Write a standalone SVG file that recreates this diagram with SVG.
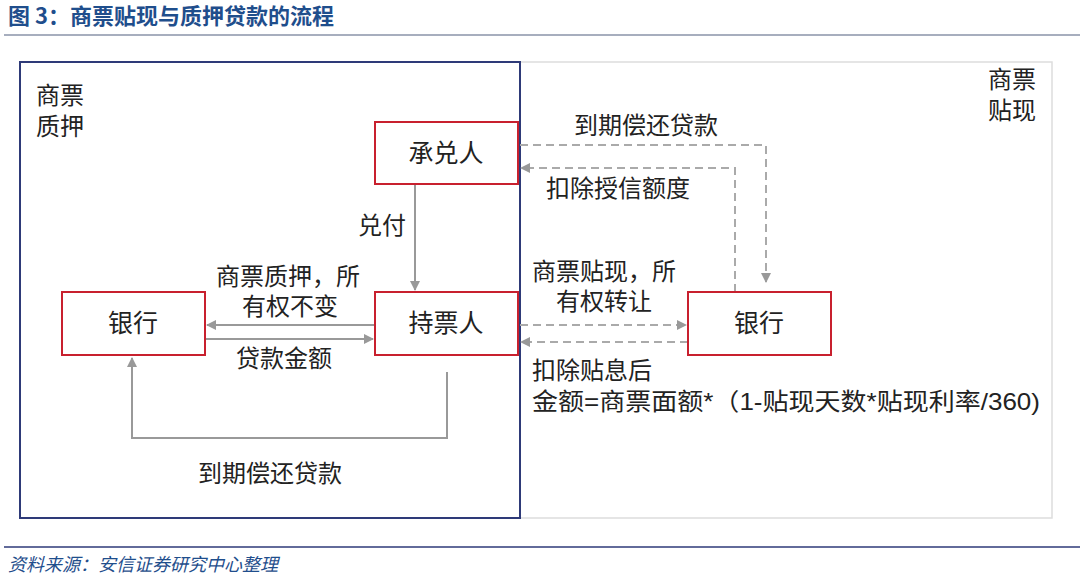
<svg xmlns="http://www.w3.org/2000/svg" width="1080" height="579" viewBox="0 0 1080 579">
<style>
text{font-family:"Liberation Sans","Noto Sans CJK SC",sans-serif;fill:#222;font-size:24px}
.node rect{fill:#fff;stroke:#c8202e;stroke-width:2}
.node text{text-anchor:middle;font-size:25px}
.s{fill:none;stroke:#999;stroke-width:2}
.d{fill:none;stroke:#aaa;stroke-width:2;stroke-dasharray:8 5}
</style>
<defs>
<marker id="a" viewBox="0 0 10 10" refX="9" refY="5" markerWidth="5" markerHeight="5" orient="auto"><path d="M0,0L10,5L0,10z" fill="#999"/></marker>
</defs>
<rect width="1080" height="579" fill="#fff"/>
<text x="8" y="24" style="fill:#1f4e8c;font-weight:bold;font-size:22px;font-family:'Noto Sans CJK SC',sans-serif">图 3：商票贴现与质押贷款的流程</text>
<line x1="4" y1="35" x2="1080" y2="35" stroke="#8a93a8" stroke-width="1.5"/>
<rect x="520" y="62" width="532" height="456" fill="none" stroke="#ddd" stroke-width="1.5"/>
<rect x="20" y="62" width="500" height="456" fill="none" stroke="#2e3a78" stroke-width="2"/>
<text x="36" y="104">商票</text><text x="36" y="135">质押</text>
<text x="988" y="88">商票</text><text x="988" y="119">贴现</text>
<g id="connectors">
<path class="s" d="M415,185V290" marker-end="url(#a)"/>
<path class="s" d="M375,325H207" marker-end="url(#a)"/>
<path class="s" d="M205,339H373" marker-end="url(#a)"/>
<path class="s" d="M447,372V438H132V358" marker-end="url(#a)"/>
<path class="d" d="M520,145H766V282" marker-end="url(#a)"/>
<path class="d" d="M735,292V168H521" marker-end="url(#a)"/>
<path class="d" d="M520,325H686" marker-end="url(#a)"/>
<path class="d" d="M688,342H521" marker-end="url(#a)"/>
</g>
<g id="n1" class="node"><rect x="375" y="122" width="143" height="62"/><text x="446" y="162">承兑人</text></g>
<g id="n2" class="node"><rect x="62" y="292" width="143" height="63"/><text x="133" y="332">银行</text></g>
<g id="n3" class="node"><rect x="375" y="292" width="143" height="63"/><text x="446" y="332">持票人</text></g>
<g id="n4" class="node"><rect x="688" y="292" width="143" height="63"/><text x="759" y="332">银行</text></g>
<text x="358" y="234">兑付</text>
<text x="216" y="285">商票质押，所</text>
<text x="242" y="315">有权不变</text>
<text x="236" y="367">贷款金额</text>
<text x="198" y="482">到期偿还贷款</text>
<text x="574" y="134">到期偿还贷款</text>
<text x="546" y="197">扣除授信额度</text>
<text x="532" y="280">商票贴现，所</text>
<text x="556" y="310">有权转让</text>
<text x="532" y="379">扣除贴息后</text>
<text x="532" y="410" textLength="508" lengthAdjust="spacingAndGlyphs">金额=商票面额*（1-贴现天数*贴现利率/360)</text>
<line x1="4" y1="547" x2="1080" y2="547" stroke="#2e3a78" stroke-width="1.5"/>
<text x="8" y="571" style="fill:#1f4e8c;font-style:italic;font-size:18px">资料来源：安信证券研究中心整理</text>
</svg>
